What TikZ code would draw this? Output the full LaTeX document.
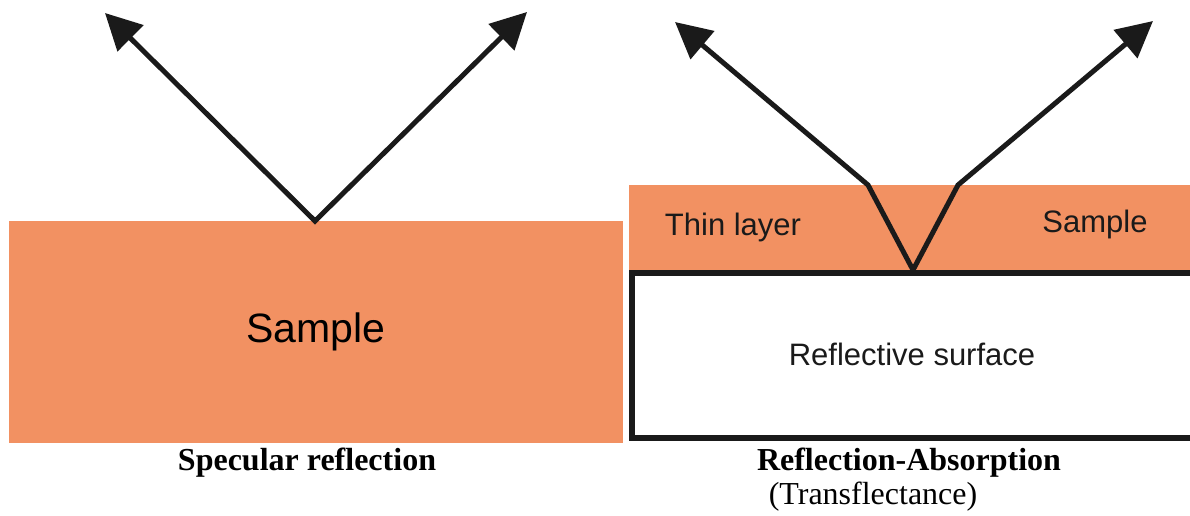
\documentclass[tikz,border=0pt]{standalone}
\usepackage{fontspec}
\setmainfont{Liberation Serif}
\newfontfamily\labelfont{Liberation Sans}
\usetikzlibrary{arrows.meta}
\definecolor{slabcol}{RGB}{242,145,98}
\definecolor{inkcol}{RGB}{26,26,26}

\begin{document}
\begin{tikzpicture}[
  x=1pt,y=-1pt,
  slab/.style={fill=slabcol,inner sep=0pt,font=\labelfont\fontsize{41}{43}\selectfont},
  lbl/.style={inner sep=0pt,font=\labelfont\fontsize{31}{33}\selectfont,text=inkcol},
  captxt/.style={inner sep=0pt,font=\fontsize{32}{34}\selectfont},
  ray/.style={draw=inkcol,line width=5pt,line join=miter,{Triangle[length=36pt,width=36pt]}-{Triangle[length=36pt,width=36pt]}}
]
\useasboundingbox (0,0) rectangle (1190,516);
% Left: specular reflection
\node[slab,minimum width=614,minimum height=222] (bulk) at (316,332) {Sample};
\coordinate (hitL) at (315,221);
\coordinate (inL) at (105,13);
\coordinate (outL) at (527,12);
\draw[ray] (inL) -- (hitL) -- (outL);
\node[captxt] (capL) at (307,463) {\textbf{Specular reflection}};
% Right: reflection-absorption
\fill[slabcol] (629,185) rectangle (1190,272);
\draw[draw=inkcol,line width=6pt] (632,272.5) rectangle (1194,438);
\node[lbl] (thin) at (733,227) {Thin layer};
\node[lbl] (samp) at (1095,224) {Sample};
\node[lbl] (mirror) at (912,354) {Reflective surface};
\coordinate (inR) at (675,22);
\coordinate (kinkA) at (868,185);
\coordinate (hitR) at (913,270);
\coordinate (kinkB) at (958,185);
\coordinate (outR) at (1153,21);
\draw[ray] (inR) -- (kinkA) -- (hitR) -- (kinkB) -- (outR);
\node[captxt] (capR) at (909,463) {\textbf{Reflection-Absorption}};
\node[captxt] (capT) at (873,497) {(Transflectance)};
\end{tikzpicture}
\end{document}
